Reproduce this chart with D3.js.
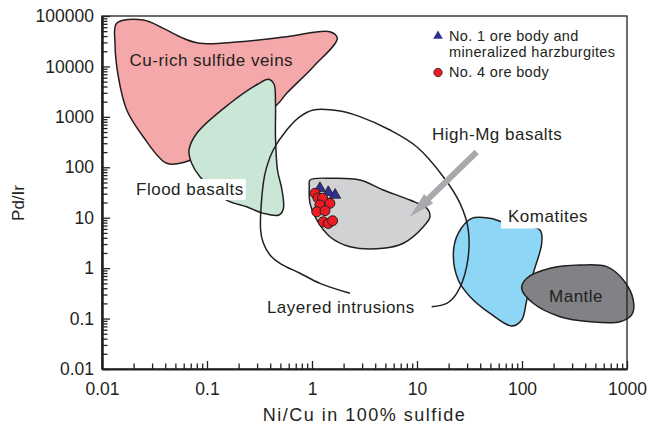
<!DOCTYPE html>
<html>
<head>
<meta charset="utf-8">
<script src="https://cdn.jsdelivr.net/npm/d3@7"></script>
<style>
  body { margin: 0; background: #fff; }
  text { font-family: "Liberation Sans", Arial, sans-serif; fill: #231f20; }
</style>
</head>
<body>
<div id="chart"></div>
<script>
// fields: [Ni/Cu, Pd/Ir] outline points
const cuRichVeins = [[0.0138,71600],[0.0247,83300],[0.0384,57000],[0.0594,36100],[0.0857,28700],[0.206,30900],[0.574,38800],[1.48,48800],[1.74,36100],[1.03,9870],[0.574,2930],[0.461,1720],[0.206,548],[0.0857,175],[0.0617,127],[0.0413,120],[0.0247,404],[0.0172,1370],[0.0143,6250],[0.0133,28700]];
const floodBasalts = [[0.384,5560],[0.434,4480],[0.449,1880],[0.449,404],[0.469,88.3],[0.518,35.4],[0.533,14.9],[0.485,11.3],[0.344,12.2],[0.239,16.5],[0.154,22.4],[0.0857,65.0],[0.0714,120],[0.0674,220],[0.0803,478],[0.166,1860],[0.306,4480]];
const highMgBasalts = [[0.957,56.0],[1.60,60.4],[2.86,56.0],[4.77,35.4],[8.57,22.4],[12.4,15.4],[13.3,10.5],[11.5,6.63],[7.41,3.11],[4.77,2.47],[2.30,2.66],[1.48,4.20],[1.11,9.01],[0.957,19.3],[0.942,41.2]];
const layeredIntrusions = [[2.30,0.317],[1.19,0.500],[0.769,0.791],[0.495,1.25],[0.398,1.82],[0.344,3.15],[0.324,5.70],[0.344,48.8],[0.371,103],[0.427,220],[0.574,548],[0.769,1010],[1.03,1370],[1.85,1306],[2.86,1010],[5.53,548],[9.93,256],[17.8,65.0],[25.7,19.3],[30.8,5.70],[29.7,1.07],[23.9,0.317],[19.2,0.201],[13.8,0.172]];
const komatiites = [[33.2,9.73],[49.6,9.73],[64.1,8.34],[148,5.70],[154,3.11],[128,0.791],[111,0.233],[99.3,0.0938],[79.8,0.0713],[49.6,0.127],[32.0,0.272],[24.7,0.582],[22.2,1.97],[24.7,4.91]];
const mantle = [[99.3,0.398],[111,0.630],[185,0.993],[357,1.15],[641,1.07],[923,0.582],[1148,0.233],[1109,0.118],[857,0.0867],[444,0.0867],[230,0.109],[128,0.201]];

// samples
const no1OreBody = [[1.19,38.3],[1.43,31.9],[1.66,28.2]];
const no4OreBody = [[1.07,30.5],[1.14,24.6],[1.26,24.3],[1.48,19.3],[1.19,17.9],[1.11,13.1],[1.33,13.8],[1.28,8.3],[1.43,7.7],[1.57,8.7]];

const xTicks = [0.01, 0.1, 1, 10, 100, 1000];
const yTicks = [0.01, 0.1, 1, 10, 100, 1000, 10000, 100000];

const fieldLabels = [
  { text: "Cu-rich sulfide veins", x: 0.0183, y: 10200 },
  { text: "Flood basalts", x: 0.0211, y: 28.2, box: true },
  { text: "High-Mg basalts", x: 13.9, y: 347 },
  { text: "Komatites", x: 73.6, y: 8.04, box: true },
  { text: "Mantle", x: 181, y: 0.218 },
  { text: "Layered intrusions", x: 0.372, y: 0.129 },
];
const arrowFrom = [37.0, 201];
const arrowTo = [8.57, 10.5];

const width = 652;
const height = 429;
const margin = { top: 16, right: 25, bottom: 60, left: 102 };
const ink = "#231f20";

const svg = d3.select("#chart").append("svg").attr("width", width).attr("height", height);

const x = d3.scaleLog().domain([0.01, 1000]).range([margin.left, width - margin.right]);
const y = d3.scaleLog().domain([0.01, 100000]).range([height - margin.bottom, margin.top]);

const minorOf = (ticks) => {
  const out = [];
  ticks.slice(0, -1).forEach((t) => { for (let k = 2; k < 10; k++) out.push(t * k); });
  return out;
};

const closed = d3.line().x((d) => x(d[0])).y((d) => y(d[1])).curve(d3.curveCatmullRomClosed.alpha(0.5));
const open = d3.line().x((d) => x(d[0])).y((d) => y(d[1])).curve(d3.curveCatmullRom.alpha(0.5));

const field = (pts, fill) =>
  svg.append("path").datum(pts).attr("d", closed)
    .attr("fill", fill).attr("stroke", ink).attr("stroke-width", 1.5).attr("stroke-linejoin", "round");

field(cuRichVeins, "#f5a8aa");
field(floodBasalts, "#c9e6d6");
field(highMgBasalts, "#d1d2d4");
field(komatiites, "#8dd6f5");
field(mantle, "#818285");

svg.append("path").datum(layeredIntrusions).attr("d", open)
  .attr("fill", "none").attr("stroke", ink).attr("stroke-width", 1.5);

// labels
const labelG = svg.append("g").style("font-size", "17px").style("letter-spacing", "0.5px");
fieldLabels.forEach((l) => {
  const g = labelG.append("g");
  const t = g.append("text").attr("x", x(l.x)).attr("y", y(l.y)).text(l.text);
  if (l.box) {
    const b = t.node().getBBox();
    const pad = l.text === "Komatites" ? { l: 7, r: 5, t: 8, b: 2 } : { l: 1, r: 2, t: 1, b: 1 };
    g.insert("rect", "text")
      .attr("x", b.x - pad.l).attr("y", b.y - pad.t)
      .attr("width", b.width + pad.l + pad.r).attr("height", b.height + pad.t + pad.b)
      .attr("fill", "#fff");
  }
});

// arrow to high-Mg basalt field
{
  const p0 = [x(arrowFrom[0]), y(arrowFrom[1])];
  const p1 = [x(arrowTo[0]), y(arrowTo[1])];
  const len = Math.hypot(p1[0] - p0[0], p1[1] - p0[1]);
  const u = [(p1[0] - p0[0]) / len, (p1[1] - p0[1]) / len];
  const n = [-u[1], u[0]];
  const headLen = 26, headW = 6.5;
  const base = [p1[0] - u[0] * headLen, p1[1] - u[1] * headLen];
  svg.append("line")
    .attr("x1", p0[0]).attr("y1", p0[1]).attr("x2", base[0] + u[0] * 2).attr("y2", base[1] + u[1] * 2)
    .attr("stroke", "#a7a9ac").attr("stroke-width", 6);
  svg.append("path")
    .attr("d", `M${p1}L${base[0] + n[0] * headW},${base[1] + n[1] * headW}L${base[0] - n[0] * headW},${base[1] - n[1] * headW}Z`)
    .attr("fill", "#a7a9ac");
}

// samples
svg.append("g").selectAll("path").data(no1OreBody).join("path")
  .attr("transform", (d) => `translate(${x(d[0])},${y(d[1])})`)
  .attr("d", d3.symbol(d3.symbolTriangle, 55))
  .attr("fill", "#2e3192").attr("stroke", ink).attr("stroke-width", 0.8);
svg.append("g").selectAll("circle").data(no4OreBody).join("circle")
  .attr("cx", (d) => x(d[0])).attr("cy", (d) => y(d[1])).attr("r", 5)
  .attr("fill", "#ed1c24").attr("stroke", ink).attr("stroke-width", 1);

// axes
const bottom = height - margin.bottom;
const xAxis = (g) =>
  g.attr("transform", `translate(0,${bottom})`)
    .call(d3.axisBottom(x).tickValues(xTicks).tickSize(-8).tickSizeOuter(0).tickPadding(14).tickFormat((d) => d))
    .call((g) => g.select(".domain").attr("stroke-width", 2));
const yAxis = (g) =>
  g.attr("transform", `translate(${margin.left},0)`)
    .call(d3.axisLeft(y).tickValues(yTicks).tickSize(-8).tickSizeOuter(0).tickPadding(8).tickFormat((d) => d))
    .call((g) => g.select(".domain").attr("stroke-width", 2.5));

svg.append("rect")
  .attr("x", margin.left).attr("y", margin.top)
  .attr("width", width - margin.right - margin.left).attr("height", bottom - margin.top)
  .attr("fill", "none").attr("stroke", ink).attr("stroke-width", 1.3);

svg.append("g").call((g) =>
  g.attr("transform", `translate(0,${bottom})`)
    .call(d3.axisBottom(x).tickValues(minorOf(xTicks)).tickSize(-5.5).tickFormat(""))
    .call((g) => g.select(".domain").remove()));
svg.append("g").call((g) =>
  g.attr("transform", `translate(${margin.left},0)`)
    .call(d3.axisLeft(y).tickValues(minorOf(yTicks)).tickSize(-5.5).tickFormat(""))
    .call((g) => g.select(".domain").remove()));
svg.append("g").call(xAxis);
svg.append("g").call(yAxis);

svg.selectAll(".tick line").attr("stroke", ink).attr("stroke-width", 1.3);
svg.selectAll(".domain").attr("stroke", ink);
svg.selectAll(".tick text").style("font-size", "17.5px").style("font-family", '"Liberation Sans", Arial, sans-serif').attr("fill", ink);

svg.append("text")
  .attr("x", (margin.left + width - margin.right) / 2).attr("y", 421)
  .attr("text-anchor", "middle").style("font-size", "18px").style("letter-spacing", "1.5px")
  .text("Ni/Cu in 100% sulfide");
svg.append("text")
  .attr("transform", "translate(24,203) rotate(-90)")
  .attr("text-anchor", "middle").style("font-size", "17px")
  .text("Pd/Ir");

// legend
const legend = svg.append("g").attr("transform", "translate(438,0)").style("font-size", "14.5px").style("letter-spacing", "0.35px");
legend.append("path").attr("transform", "translate(0,36)")
  .attr("d", d3.symbol(d3.symbolTriangle, 40)).attr("fill", "#2e3192");
legend.append("circle").attr("cy", 72.5).attr("r", 4.2)
  .attr("fill", "#ed1c24").attr("stroke", ink).attr("stroke-width", 0.8);
legend.append("text").attr("x", 11).attr("y", 41).text("No. 1 ore body and");
legend.append("text").attr("x", 11).attr("y", 57).text("mineralized harzburgites");
legend.append("text").attr("x", 11).attr("y", 77).text("No. 4 ore body");
</script>
</body>
</html>
